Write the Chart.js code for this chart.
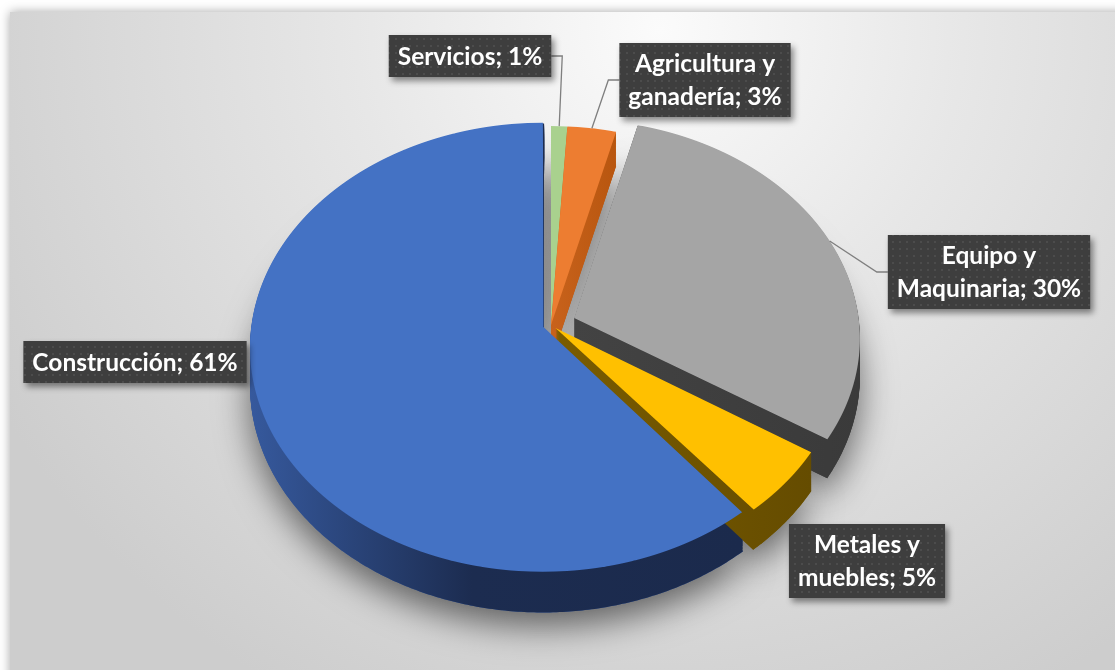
<!DOCTYPE html>
<html lang="es">
<head>
<meta charset="utf-8">
<title>Distribución por sector</title>
<script src="https://cdn.jsdelivr.net/npm/chart.js@4.4.1/dist/chart.umd.min.js"></script>
<style>
  html, body { margin: 0; padding: 0; background: #fff; }
  canvas { display: block; }
</style>
</head>
<body>
<canvas id="pie-chart" width="1115" height="670"></canvas>
<script>
const categories = ['Servicios', 'Agricultura y ganadería', 'Equipo y Maquinaria', 'Metales y muebles', 'Construcción'];
const shares = [1, 3, 30, 5, 61];

// top face colours and side wall gradient stops
const topColors = ['#a9d18e', '#ed7d31', '#a5a5a5', '#ffc000', '#4472c4'];
const sideColors = [
  ['#86a870', '#7a9a66'],
  ['#c8621c', '#b8560f'],
  ['#434343', '#3a3a3a'],
  ['#7a5c00', '#654c00'],
  ['#36599d', '#1c2c50', '#1b2a4c']
];
const explode = [0, 0, 25, 6, 8];           // px the slice is pulled out
const labelCenters = [[470, 56], [705, 80], [989, 272], [867, 561], [135, 362]];
const leaders = [true, true, true, false, false];

const RADIUS = 284;
const TILT = 0.7616;     // vertical squash at the centre
const VIEW = 3258;       // viewing distance for the perspective
const DEPTH = 37;

function makeDots(ctx) {
  const c = document.createElement('canvas');
  c.width = 7; c.height = 7;
  const g = c.getContext('2d');
  g.fillStyle = '#3e3e3e';
  g.fillRect(0, 0, 7, 7);
  g.fillStyle = '#4c4c4c';
  g.fillRect(3, 3, 2, 2);
  return ctx.createPattern(c, 'repeat');
}

function polygon(ctx, pts, t) {
  ctx.beginPath();
  pts.forEach((p, k) => {
    const y = p[1] + t * DEPTH * p[2];
    if (k === 0) ctx.moveTo(p[0], y); else ctx.lineTo(p[0], y);
  });
  ctx.closePath();
}

const pie3d = {
  id: 'pie3d',
  beforeDraw(chart) {
    const {ctx, width, height} = chart;
    ctx.save();
    ctx.fillStyle = '#ffffff';
    ctx.fillRect(0, 0, width, height);
    ctx.shadowColor = 'rgba(0,0,0,0.35)';
    ctx.shadowBlur = 10;
    const g = ctx.createRadialGradient(660, 30, 0, 660, 30, 760);
    g.addColorStop(0, '#fbfbfb');
    g.addColorStop(0.4, '#e7e7e7');
    g.addColorStop(1, '#cdcdcd');
    ctx.fillStyle = g;
    ctx.fillRect(10, 12, width + 20, height + 20);
    ctx.restore();
  },
  beforeDatasetsDraw(chart) {
    const ctx = chart.ctx;
    const meta = chart.getDatasetMeta(0);
    const CX = meta.data[0].x, CY = meta.data[0].y;
    // perspective: front of the pie comes closer
    const proj = (x, y) => {
      const w = y - CY;
      const s = 1 / (1 - w / VIEW);
      return [CX + (x - CX) * s, CY + w * TILT * s, s];
    };

    // same geometry ArcElement.draw uses for an offset slice
    const shapes = meta.data.map((arc, i) => {
      const off = (arc.options.offset || 0) / 4;
      const half = (arc.startAngle + arc.endAngle) / 2;
      const fix = 1 - Math.sin(Math.min(Math.PI, arc.circumference));
      const ax = arc.x + Math.cos(half) * off;
      const ay = arc.y + Math.sin(half) * off;
      const r = arc.outerRadius + off * fix;
      const pts = [proj(ax, ay)];
      const n = Math.max(6, Math.ceil(arc.circumference / 0.01));
      for (let k = 0; k <= n; k++) {
        const a = arc.startAngle + arc.circumference * k / n;
        pts.push(proj(ax + r * Math.cos(a), ay + r * Math.sin(a)));
      }
      const xs = pts.map(p => p[0]);
      return {
        i, pts, half,
        minX: Math.min(...xs), maxX: Math.max(...xs),
        mid: proj(ax + r * Math.cos(half), ay + r * Math.sin(half))
      };
    });
    chart.$shapes = shapes;

    // soft shadow under the pie
    ctx.save();
    ctx.shadowColor = 'rgba(0,0,0,0.55)';
    ctx.shadowBlur = 34;
    ctx.shadowOffsetY = 14;
    shapes.forEach(s => {
      ctx.fillStyle = sideColors[s.i][0];
      polygon(ctx, s.pts, 1);
      ctx.fill();
    });
    ctx.restore();

    // side walls, back slices first
    const order = shapes.slice().sort((a, b) => Math.sin(a.half) - Math.sin(b.half));
    order.forEach(s => {
      const stops = sideColors[s.i];
      const g = ctx.createLinearGradient(s.minX, 0, s.maxX, 0);
      if (stops.length === 3) {
        g.addColorStop(0, stops[0]);
        g.addColorStop(0.45, stops[1]);
        g.addColorStop(1, stops[2]);
      } else {
        g.addColorStop(0, stops[0]);
        g.addColorStop(1, stops[1]);
      }
      ctx.fillStyle = g;
      for (let d = DEPTH; d >= 1; d--) {
        polygon(ctx, s.pts, d / DEPTH);
        ctx.fill();
      }
    });

    // top faces through the arc elements, one pixel row at a time with the
    // local perspective transform of that row
    const top = Math.floor(Math.min(...shapes.map(s => Math.min(...s.pts.map(p => p[1]))))) - 2;
    const bottom = Math.ceil(Math.max(...shapes.map(s => Math.max(...s.pts.map(p => p[1]))))) + 2;
    for (let row = top; row < bottom; row++) {
      const yc = row + 0.5;
      const t = (yc - CY) / TILT;
      const w = t / (1 + t / VIEW);
      const s = 1 / (1 - w / VIEW);
      const d = TILT * s * s;
      ctx.save();
      ctx.beginPath();
      ctx.rect(0, row, chart.width, 1);
      ctx.clip();
      ctx.transform(s, 0, 0, d, CX * (1 - s), yc - d * (CY + w));
      meta.data.forEach(arc => arc.draw(ctx));
      ctx.restore();
    }
    return false;
  },
  afterDraw(chart) {
    const ctx = chart.ctx;
    const shapes = chart.$shapes;
    if (!shapes) return;
    const dots = makeDots(ctx);
    ctx.save();
    ctx.font = 'bold 24.5px Lato';
    ctx.textAlign = 'center';
    ctx.textBaseline = 'middle';
    categories.forEach((cat, i) => {
      const text = cat + '; ' + shares[i] + '%';
      const parts = text.split(' y ');
      const lines = parts.length > 1 ? [parts[0] + ' y', parts[1]] : [text];
      const w = Math.max(...lines.map(l => ctx.measureText(l).width)) + 18;
      const h = lines.length === 1 ? 42 : 74;
      const [cx, cyl] = labelCenters[i];
      const left = cx - w / 2, top = cyl - h / 2;

      if (leaders[i]) {
        const [mx, my] = shapes[i].mid;
        const sx = mx < left ? left : left + w;
        const ex = mx < left ? sx - 11 : sx + 11;
        ctx.beginPath();
        ctx.moveTo(sx, cyl);
        ctx.lineTo(ex, cyl);
        ctx.lineTo(mx, my);
        ctx.strokeStyle = '#7f7f7f';
        ctx.lineWidth = 1.3;
        ctx.stroke();
      }

      ctx.save();
      ctx.shadowColor = 'rgba(0,0,0,0.45)';
      ctx.shadowBlur = 6;
      ctx.shadowOffsetX = 3;
      ctx.shadowOffsetY = 4;
      ctx.fillStyle = dots;
      ctx.fillRect(left, top, w, h);
      ctx.restore();

      ctx.fillStyle = '#ffffff';
      lines.forEach((l, k) => {
        ctx.fillText(l, cx, cyl + 1 + (k - (lines.length - 1) / 2) * 33);
      });
    });
    ctx.restore();
  }
};

new Chart(document.getElementById('pie-chart'), {
  type: 'pie',
  data: {
    labels: categories,
    datasets: [{
      data: shares,
      backgroundColor: topColors,
      borderWidth: 0,
      offset: explode.map(v => v * 4),
      radius: RADIUS
    }]
  },
  options: {
    responsive: false,
    animation: false,
    events: [],
    layout: { padding: { left: 0, right: 13, top: 0, bottom: 20 } },
    plugins: {
      legend: { display: false },
      tooltip: { enabled: false }
    }
  },
  plugins: [pie3d]
});
</script>
</body>
</html>
